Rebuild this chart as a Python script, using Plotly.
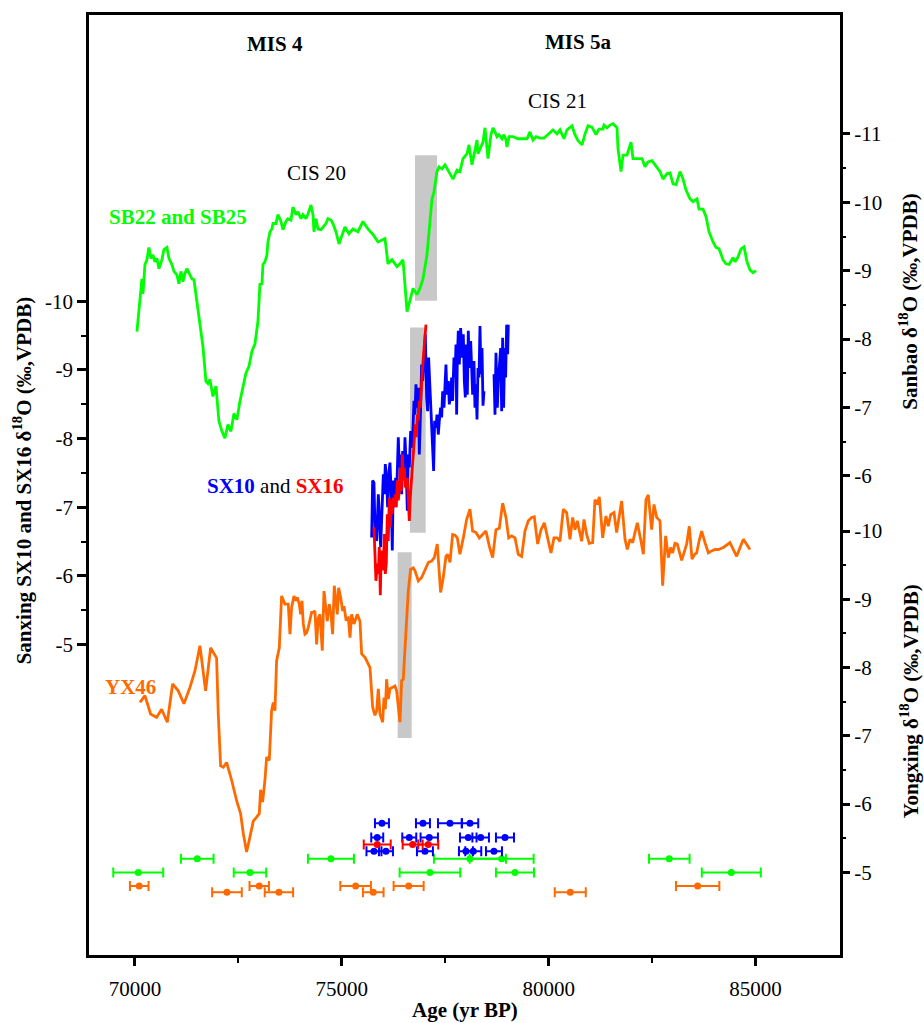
import plotly.graph_objects as go

# ---------------- Sanbao SB22 & SB25 (upper right axis) ----------------
sb_age = [70048, 70073, 70121, 70169, 70194, 70242, 70290, 70338, 70387, 70435,
          70483, 70532, 70580, 70653, 70701, 70774, 70822, 70894, 70943, 71015,
          71063, 71112, 71160, 71208, 71257, 71305, 71377, 71426, 71498, 71571,
          71644, 71716, 71764, 71813, 71885, 71958, 72030, 72103, 72175, 72248,
          72320, 72393, 72465, 72538, 72610, 72683, 72756, 72828, 72901, 72973,
          73021, 73070, 73094, 73142, 73190, 73215, 73263, 73311, 73336, 73408,
          73457, 73529, 73577, 73650, 73698, 73771, 73819, 73892, 73940, 74013,
          74061, 74134, 74182, 74254, 74303, 74327, 74375, 74424, 74496, 74544,
          74617, 74665, 74738, 74786, 74858, 74931, 75003, 75076, 75173, 75269,
          75390, 75511, 75632, 75753, 75874, 75970, 76043, 76091, 76115, 76212,
          76333, 76405, 76478, 76526, 76575, 76671, 76720, 76817, 76889, 76962,
          77058, 77131, 77179, 77228, 77300, 77348, 77421, 77493, 77566, 77687,
          77783, 77856,
          77928, 78025, 78073, 78146, 78194, 78267, 78291, 78339, 78412, 78460,
          78509, 78533, 78605, 78654, 78702, 78750, 78799, 78871, 78920, 78968,
          78992, 79040, 79137, 79258, 79379, 79475, 79548, 79620, 79693, 79789,
          79886, 79983, 80104, 80200, 80273, 80369, 80442, 80563, 80635, 80708,
          80805, 80877, 80950, 81046, 81143, 81215, 81312, 81336, 81409, 81481,
          81554, 81651, 81675, 81747, 81796, 81892, 81989, 82037, 82134, 82255,
          82327, 82400, 82496, 82617, 82690, 82762, 82859, 82932, 83004, 83077,
          83173, 83246, 83318, 83415, 83488, 83584, 83633, 83729, 83802, 83874,
          83971, 84043, 84116, 84213, 84285, 84358, 84454, 84503, 84575, 84648,
          84720, 84793, 84865, 84938, 85010]
sb_d18o = [-8.11, -8.26, -8.65, -8.88, -8.66, -9.09, -9.16, -9.34, -9.18, -9.23,
           -9.13, -9.18, -9.03, -9.16, -9.31, -9.34, -9.18, -9.09, -8.99, -8.94,
           -8.81, -8.99, -8.84, -8.96, -9.03, -8.96, -8.88, -8.87, -8.55, -8.28,
           -7.89, -7.38, -7.35, -7.41, -7.16, -7.31, -6.80, -6.65, -6.55, -6.75,
           -6.65, -6.91, -6.82, -7.09, -7.31, -7.50, -7.60, -7.82, -7.93, -8.26,
           -8.80, -8.81, -9.09, -9.13, -9.23, -9.42, -9.57, -9.61, -9.69, -9.69,
           -9.82, -9.72, -9.60, -9.72, -9.76, -9.74, -9.93, -9.82, -9.86, -9.76,
           -9.82, -9.76, -9.83, -9.96, -9.82, -9.57, -9.76, -9.61, -9.60, -9.64,
           -9.69, -9.76, -9.74, -9.69, -9.57, -9.39, -9.53, -9.64, -9.54, -9.61,
           -9.57, -9.72, -9.61, -9.53, -9.42, -9.45, -9.47, -9.23, -9.10, -9.16,
           -9.06, -9.10, -9.16, -8.80, -8.40, -8.62, -8.74, -8.65, -8.74, -8.88,
           -9.23, -9.72, -10.05, -10.15, -10.45, -10.52, -10.49, -10.55, -10.47, -10.34,
           -10.47, -10.45,
           -10.64, -10.71, -10.84, -10.55, -10.69, -10.91, -10.71, -10.78, -10.88, -11.09,
           -10.78, -10.64, -10.99, -11.09, -11.03, -10.96, -10.99, -10.93, -10.99, -10.91,
           -10.81, -10.96, -10.96, -10.93, -10.93, -10.93, -11.03, -10.91, -10.96, -10.94,
           -10.94, -10.99, -11.06, -11.00, -11.06, -10.93, -11.06, -11.12, -10.99, -10.90,
           -10.84, -11.00, -11.12, -11.10, -10.99, -11.07, -11.07, -11.13, -11.09, -11.13,
           -11.15, -11.09, -10.78, -10.45, -10.69, -10.69, -10.88, -10.64, -10.64, -10.64,
           -10.52, -10.59, -10.61, -10.52, -10.45, -10.34, -10.42, -10.43, -10.27, -10.26,
           -10.45, -10.34, -10.18, -10.05, -10.01, -10.05, -9.90, -9.90, -9.79, -9.57,
           -9.42, -9.34, -9.32, -9.16, -9.10, -9.09, -9.19, -9.13, -9.20, -9.32,
           -9.35, -9.13, -9.01, -8.97, -9.00]

# ---------------- Sanxing SX10 (left axis) ----------------
sx10_age = [75721, 75745, 75777, 75801, 75842, 75882, 75906, 75938, 75962, 76003,
            76027, 76051, 76083, 76107, 76140, 76164, 76188, 76220, 76244, 76269,
            76301, 76325, 76365, 76389, 76422, 76446, 76470, 76502, 76526, 76551,
            76583, 76607, 76631, 76663, 76688, 76712, 76744, 76768, 76792, 76824,
            76849, 76873, 76905, 76929, 76953, 76986, 77018, 77050, 77074, 77098,
            77123, 77147, 77171, 77195, 77219, 77243, 77276, 77300, 77332, 77356,
            77388, 77413, 77437, 77469, 77493, 77517, 77541, 77574, 77598, 77630,
            77654, 77678, 77710, 77735, 77759, 77775, 77791, 77815, 77840, 77872,
            77904, 77936, 77961, 77985, 78009, 78033, 78057, 78081, 78114, 78138,
            78162, 78194, 78218, 78243, 78267, 78291, 78315, 78339, 78363, 78388,
            78412, 78436, None,
            78678, 78702, 78726, 78758, 78782, 78806, 78839,
            78863, 78887, 78911, 78935, 78959, 78984, 79008, 79024]
sx10_d18o = [-6.56, -7.39, -7.36, -6.71, -6.51, -7.19, -6.90, -6.42, -6.80, -7.48,
             -7.19, -7.63, -7.39, -7.00, -7.53, -7.65, -7.29, -6.37, -7.39, -7.10,
             -7.43, -7.19, -8.02, -7.58, -7.77, -7.19, -7.82, -7.43, -8.02, -7.68,
             -6.95, -7.77, -7.58, -8.11, -7.87, -8.02, -8.55, -8.35, -8.79, -8.45,
             -8.74, -7.77, -8.45, -9.08, -8.84, -9.18, -9.52, -8.60, -8.40, -9.18,
             -8.84, -8.45, -8.35, -8.02, -7.53, -8.26, -8.16, -8.35, -8.06, -8.26,
             -8.45, -8.31, -8.69, -8.45, -8.84, -9.08, -8.64, -8.84, -8.50, -8.64,
             -8.89, -8.55, -9.18, -8.89, -9.37, -8.35, -9.13, -9.57, -9.08, -9.61,
             -9.18, -9.52, -8.84, -8.60, -9.37, -8.64, -9.57, -9.03, -9.42, -8.94,
             -8.64, -9.13, -8.45, -8.79, -8.28, -9.03, -8.89, -9.64, -8.94, -9.32,
             -8.48, -8.69, None,
             -8.94, -8.35, -9.25, -8.45, -8.84, -9.08, -9.32,
             -8.40, -9.47, -8.45, -9.32, -8.89, -9.66, -9.23, -9.66]

# ---------------- Sanxing SX16 (left axis) ----------------
sx16_age = [75777, 75801, 75825, 75858, 75882, 75906, 75930, 75954, 75979, 76003,
            76027, 76051, 76075, 76099, 76123, 76147, 76172, 76196, 76220, 76244,
            76269, 76293, 76317, 76341, 76365, 76389, 76413, 76438, 76462, 76486,
            76510, 76534, 76559, 76583, 76607, 76631, 76655, 76679, 76704, 76728,
            76752, 76776, 76800, 76824, 76849, 76873, 76897, 76921, 76945, 76970,
            76994, 77018, 77034]
sx16_d18o = [-6.71, -6.42, -5.93, -6.18, -6.03, -6.42, -5.72, -6.37, -6.27, -6.08,
             -6.61, -6.03, -6.18, -6.90, -6.51, -7.14, -6.71, -7.10, -6.90, -7.14,
             -7.00, -7.19, -7.00, -7.39, -7.10, -7.24, -7.58, -7.24, -7.77, -7.39,
             -7.58, -7.29, -7.34, -7.43, -7.14, -6.80, -7.14, -7.48, -7.58, -7.77,
             -8.02, -8.21, -8.02, -8.35, -8.26, -8.55, -8.45, -8.84, -8.98, -9.18,
             -9.37, -9.61, -9.66]

# ---------------- Yongxing YX46 (lower right axis) ----------------
yx46_age = [70121, 70242, 70379, 70524, 70645, 70782, 70911, 71047, 71184, 71330,
            71450, 71571, 71708, 71829, 71974, 72014, 72071, 72135, 72216, 72337,
            72458, 72554, 72619, 72699, 72780, 72860, 72941, 73005, 73038, 73086,
            73142, 73183, 73247, 73303, 73344, 73384, 73424, 73489, 73545, 73626,
            73706, 73747, 73787, 73843, 73892, 73924, 73972, 74005, 74037, 74069,
            74109, 74150, 74190, 74230, 74271, 74311, 74351, 74391, 74432, 74472,
            74528, 74569, 74617, 74649, 74697, 74738, 74778, 74818, 74858, 74891,
            74923, 74971, 75020, 75052, 75100, 75157, 75197, 75237, 75294, 75334,
            75374, 75439, 75479, 75560, 75681, 75745, 75801, 75842, 75882, 75922,
            75987, 76019, 76051, 76083, 76124, 76164, 76228, 76285, 76325, 76365,
            76405, 76446, 76486, 76526, 76566,
            76606, 76663, 76727, 76768, 76848, 76929, 77009, 77090, 77170, 77235,
            77307, 77388, 77452, 77517, 77557, 77614, 77678, 77734, 77791, 77855,
            77936, 78016, 78097, 78161, 78242, 78323, 78403, 78484, 78564, 78645,
            78725, 78806, 78887, 78967, 79032, 79104, 79185, 79265, 79346, 79426,
            79507, 79588, 79652, 79733, 79813, 79894, 79974, 80055, 80127, 80208,
            80272, 80353, 80434, 80514, 80579, 80635, 80691, 80740, 80796, 80853,
            80917, 80981, 81062, 81118, 81175, 81223, 81304, 81384, 81441, 81497,
            81578, 81642, 81690, 81763, 81844, 81900, 81964, 82029, 82085, 82142,
            82222, 82287, 82351, 82407, 82488, 82544, 82609, 82689, 82754, 82826,
            82891, 82947, 82996, 83052, 83108, 83157, 83213, 83269, 83334, 83398,
            83463, 83527, 83576, 83632, 83697, 83777, 83858, 83938, 84019, 84099,
            84220, 84381, 84542, 84704, 84865]
yx46_d18o = [-7.49, -7.59, -7.32, -7.27, -7.39, -7.20, -7.76, -7.66, -7.47, -7.71,
             -7.95, -8.32, -7.66, -8.29, -8.14, -7.32, -6.56, -6.54, -6.61, -6.35,
             -6.05, -5.86, -5.57, -5.30, -5.52, -5.75, -5.81, -5.86, -6.21, -6.03,
             -6.35, -6.69, -6.64, -7.37, -7.49, -7.37, -8.10, -8.29, -9.05, -8.93,
             -8.93, -8.49, -8.88, -9.05, -8.98, -9.03, -8.93, -8.78, -8.98, -8.64,
             -8.49, -8.51, -8.59, -8.73, -8.81, -8.81, -8.83, -8.34, -8.73, -8.78,
             -8.25, -9.12, -8.88, -8.68, -8.93, -8.78, -8.49, -9.20, -8.98, -8.78,
             -9.17, -9.03, -8.83, -8.90, -8.71, -8.73, -8.44, -8.78, -8.64, -8.73,
             -8.78, -8.68, -8.20, -8.15, -8.00, -7.42, -7.30, -7.37, -7.69, -7.32,
             -7.20, -7.56, -7.39, -7.83, -7.54, -7.69, -7.71, -7.73, -7.66, -7.42,
             -7.20, -7.81, -7.83, -8.27, -8.78,
             -9.12, -9.44, -9.46, -9.42, -9.27, -9.32, -9.42, -9.54, -9.56, -9.61,
             -9.81, -9.10, -9.32, -9.63, -9.66, -9.54, -9.95, -9.94, -9.90, -9.66,
             -9.90, -10.17, -10.32, -10.00, -9.98, -9.90, -9.95, -10.00, -9.78, -9.61,
             -10.02, -10.04, -10.41, -10.20, -9.90, -9.93, -9.90, -9.66, -9.63, -10.00,
             -10.15, -10.20, -10.21, -9.81, -10.02, -10.12, -9.90, -9.68, -9.90, -9.90,
             -9.85, -10.32, -10.27, -9.88, -10.20, -10.02, -10.15, -10.02, -9.85, -10.17,
             -9.95, -9.82, -9.83, -10.46, -10.39, -10.50, -9.90, -10.22, -10.07, -10.24,
             -10.27, -9.98, -10.15, -10.44, -9.88, -9.73, -9.88, -9.83, -9.98, -10.12,
             -9.88, -9.66, -10.46, -10.53, -10.02, -10.39, -10.20, -10.15, -9.20, -9.93,
             -9.61, -9.76, -9.68, -9.82, -9.81, -9.68, -9.57, -9.68, -9.81, -10.07,
             -9.59, -9.66, -9.68, -9.85, -10.00, -9.83, -9.68, -9.71, -9.73, -9.73,
             -9.76, -9.83, -9.63, -9.88, -9.73]

# ---------------- 230Th ages with 2-sigma errors (row level on lower right axis) ----------------
sb_date_age = [71506, 74737, 78097, 78863, 82914, 70080, 72780, 77130, 79185, 84413]
sb_date_err = [394, 556, 870, 773, 491, 604, 392, 733, 460, 713]
sb_date_row = [-5.20, -5.20, -5.20, -5.20, -5.20, -5.00, -5.00, -5.00, -5.00, -5.00]

yx_date_age = [70104, 73004, 75334, 76615, 83600, 72224, 73480, 75760, 80521]
yx_date_err = [225, 234, 370, 363, 524, 358, 343, 249, 375]
yx_date_row = [-4.80, -4.80, -4.80, -4.80, -4.80, -4.71, -4.71, -4.71, -4.71]

sx10_date_age = [75970, 76961, 77614, 78097,
                 75856, 76630, 77113, 78056, 78356, 78943,
                 75777, 76067, 77009, 78000, 78177, 78677]
sx10_date_err = [169, 169, 290, 200,
                 145, 169, 210, 200, 200, 218,
                 181, 169, 193, 169, 193, 193]
sx10_date_row = [-5.72, -5.72, -5.72, -5.72,
                 -5.51, -5.51, -5.51, -5.51, -5.51, -5.51,
                 -5.31, -5.31, -5.31, -5.31, -5.31, -5.31]

sx16_date_age = [75856, 76712, 77089]
sx16_date_err = [326, 242, 242]
sx16_date_row = [-5.41, -5.41, -5.41]

# ---------------- transition bands ----------------
band_sb_age = [76768, 77300]
band_sb_val = [-10.69, -8.56]
band_sx_age = [76647, 77026]
band_sx_val = [-9.62, -6.63]
band_yx_age = [76350, 76688]
band_yx_val = [-9.69, -6.97]

# axis settings
x_range = [68890, 87040]
sx_range = [-0.48, -14.17]
sb_range = [1.01, -12.74]
yx_range = [-3.79, -17.56]
x_ticks = [70000, 75000, 80000, 85000]
x_minor = [72500, 77500, 82500]
sx_ticks = [-10, -9, -8, -7, -6, -5]
sx_minor = [-9.5, -8.5, -7.5, -6.5, -5.5]
sb_ticks = [-11, -10, -9, -8, -7, -6]
sb_minor = [-10.5, -9.5, -8.5, -7.5, -6.5]
yx_ticks = [-10, -9, -8, -7, -6, -5]
yx_minor = [-9.5, -8.5, -7.5, -6.5, -5.5]

GREEN = '#00FF00'
BLUE = '#0000FF'
RED = '#FF0000'
ORANGE = '#FF6A00'
FONT = 'Liberation Serif'

fig = go.Figure()

fig.add_trace(go.Scatter(x=sb_age, y=sb_d18o, yaxis='y2', mode='lines',
                         line=dict(color=GREEN, width=2.8), hoverinfo='skip'))
fig.add_trace(go.Scatter(x=yx46_age, y=yx46_d18o, yaxis='y3', mode='lines',
                         line=dict(color=ORANGE, width=2.8), hoverinfo='skip'))
fig.add_trace(go.Scatter(x=sx10_age, y=sx10_d18o, yaxis='y', mode='lines',
                         line=dict(color=BLUE, width=2.8), connectgaps=False, hoverinfo='skip'))
fig.add_trace(go.Scatter(x=sx16_age, y=sx16_d18o, yaxis='y', mode='lines',
                         line=dict(color=RED, width=2.8), hoverinfo='skip'))


def dates(age, err, row, color):
    return go.Scatter(x=age, y=row, yaxis='y3', mode='markers',
                      marker=dict(color=color, size=7, symbol='circle'),
                      error_x=dict(type='data', array=err, visible=True,
                                   color=color, thickness=2, width=5),
                      hoverinfo='skip')


fig.add_trace(dates(sb_date_age, sb_date_err, sb_date_row, GREEN))
fig.add_trace(dates(yx_date_age, yx_date_err, yx_date_row, ORANGE))
fig.add_trace(dates(sx10_date_age, sx10_date_err, sx10_date_row, BLUE))
fig.add_trace(dates(sx16_date_age, sx16_date_err, sx16_date_row, RED))

shapes = []
for ages, vals, ref in [(band_sb_age, band_sb_val, 'y2'),
                        (band_sx_age, band_sx_val, 'y'),
                        (band_yx_age, band_yx_val, 'y3')]:
    shapes.append(dict(type='rect', xref='x', yref=ref, x0=ages[0], x1=ages[1],
                       y0=vals[0], y1=vals[1], fillcolor='#C8C8C8',
                       line=dict(width=0), layer='below'))

tickfont = dict(family=FONT, size=21, color='black')


def yax(rng, ticks, minor, side, showline, overlay=None, mirror=False):
    d = dict(range=rng, tickmode='array', tickvals=ticks,
             ticktext=[str(t) for t in ticks], ticks='outside', ticklen=9,
             tickwidth=2.5, tickcolor='black', tickfont=tickfont,
             showgrid=False, zeroline=False, side=side,
             showline=showline, linecolor='black', linewidth=2.5, mirror=mirror,
             minor=dict(tickvals=minor, ticks='outside', ticklen=5,
                        tickwidth=2, tickcolor='black', showgrid=False))
    if overlay:
        d['overlaying'] = overlay
        d['anchor'] = 'x'
    return d


annotations = [
    dict(text='<b>MIS 4</b>', x=0.2477, y=0.9692),
    dict(text='<b>MIS 5a</b>', x=0.6511, y=0.9713),
    dict(text='CIS 20', x=0.3023, y=0.8323),
    dict(text='CIS 21', x=0.6245, y=0.9087),
    dict(text='<b>SB22 and SB25</b>', x=0.1185, y=0.7856, font_color=GREEN),
    dict(text="<span style='color:#0000FF;font-weight:bold'>SX10</span> and "
              "<span style='color:#FF0000;font-weight:bold'>SX16</span>",
         x=0.2477, y=0.4989),
    dict(text='<b>YX46</b>', x=0.0546, y=0.2856, font_color=ORANGE),
    dict(text='<b>Age (yr BP)</b>', x=0.5, y=-0.0585),
    dict(text='<b>Sanxing SX10 and SX16 δ<sup>18</sup>O (‰,VPDB)</b>', x=-0.0892, y=0.505,
         textangle=-90),
    dict(text='<b>Sanbao δ<sup>18</sup>O (‰,VPDB)</b>', x=1.0919, y=0.695, textangle=-90),
    dict(text='<b>Yongxing δ<sup>18</sup>O (‰,VPDB)</b>', x=1.0919, y=0.27, textangle=-90),
]
ann = []
for a in annotations:
    color = a.pop('font_color', 'black')
    a.update(xref='paper', yref='paper', showarrow=False, xanchor='center',
             yanchor='middle', font=dict(family=FONT, size=21, color=color))
    ann.append(a)

fig.update_layout(
    width=924, height=1023, autosize=False,
    margin=dict(l=89, r=84, t=13, b=68),
    paper_bgcolor='white', plot_bgcolor='white',
    showlegend=False,
    xaxis=dict(range=x_range, tickmode='array', tickvals=x_ticks,
               ticktext=[str(t) for t in x_ticks], ticks='outside', ticklen=8,
               tickwidth=2.5, tickcolor='black', tickfont=tickfont,
               showline=True, linecolor='black', linewidth=2.5, mirror=True,
               showgrid=False, zeroline=False, ticklabelstandoff=5,
               minor=dict(tickvals=x_minor, ticks='outside', ticklen=5,
                          tickwidth=2, tickcolor='black', showgrid=False)),
    yaxis=yax(sx_range, sx_ticks, sx_minor, 'left', True, mirror=True),
    yaxis2=yax(sb_range, sb_ticks, sb_minor, 'right', False, overlay='y'),
    yaxis3=yax(yx_range, yx_ticks, yx_minor, 'right', False, overlay='y'),
    shapes=shapes,
    annotations=ann,
)

fig.write_html('out.html')
